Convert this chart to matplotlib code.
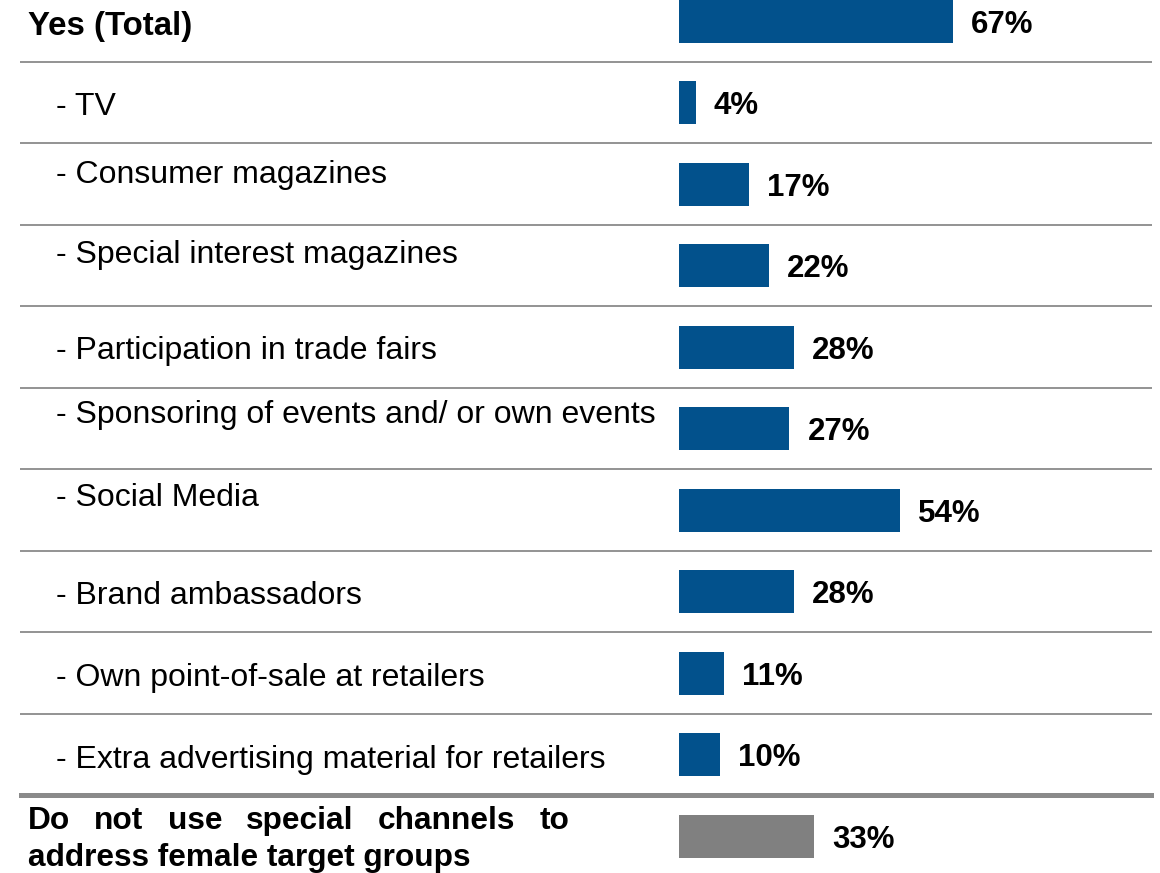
import matplotlib
matplotlib.use("Agg")
import matplotlib.pyplot as plt
from matplotlib.transforms import blended_transform_factory

plt.rcParams["font.family"] = ["Liberation Sans", "DejaVu Sans"]

# ---- data -------------------------------------------------------------
categories = [
    "Yes (Total)",
    "- TV",
    "- Consumer magazines",
    "- Special interest magazines",
    "- Participation in trade fairs",
    "- Sponsoring of events and/ or own events",
    "- Social Media",
    "- Brand ambassadors",
    "- Own point-of-sale at retailers",
    "- Extra advertising material for retailers",
]
values = [67, 4, 17, 22, 28, 27, 54, 28, 11, 10]
no_label_lines = ["Do not use special channels to", "address female target groups"]
no_value = 33

# ---- layout -----------------------------------------------------------
W, H, DPI = 1160, 873, 100
ROW_PX = 81.5            # pixel height of one row
ROW0_PX = 21.25          # pixel centre of the first row
X0_PX = 679.3            # pixel of 0 %
PX_PER_PCT = 4.08        # pixels per percent
BAR_PX = 43              # bar thickness in pixels

BLUE = "#02518C"
GREY_BAR = "#808080"
RULE = "#959595"
FS_VAL = 22.5            # value labels (pt)
FS_CAT = 23.0            # category captions (pt)
FS_HEAD = 23.8           # bold "Yes (Total)" caption (pt)
FS_FOOT = 22.8           # bold two-line caption of the last row (pt)


def cap(fs):
    """Cap height in pixels for a given font size."""
    return 0.716 * fs * DPI / 72


# vertical nudges (px, downward) of the category captions within their row
label_shift = [1.75, 0.75, -13, -14.5, 0.5, -17.5, -15.5, 1, 1, 1.5]
label_left = [28] + [56] * 9

fig = plt.figure(figsize=(W / DPI, H / DPI), dpi=DPI)
ax = fig.add_axes([0, 0, 1, 1])
ax.set_xlim(-X0_PX / PX_PER_PCT, (W - X0_PX) / PX_PER_PCT)
ax.set_ylim((H - ROW0_PX) / ROW_PX, -ROW0_PX / ROW_PX)
ax.axis("off")

n = len(categories)
rows = list(range(n))
bar_h = BAR_PX / ROW_PX

# bars
ax.barh(rows, values, height=bar_h, color=BLUE, edgecolor="none")
ax.barh([n], [no_value], height=bar_h, color=GREY_BAR, edgecolor="none")

# row separators
x_from, x_to = 21 / W, 1151 / W
for i in range(n - 1):
    ax.axhline(i + 0.5, x_from, x_to, color=RULE, lw=2.0 * 72 / DPI, zorder=1)
ax.axhline(n - 0.5, x_from, x_to, color="#8a8a8a", lw=5.0 * 72 / DPI, zorder=1)

# value labels
for r, v in zip(rows + [n], values + [no_value]):
    ax.annotate(f"{v}%", xy=(v, r), xytext=(18, -(cap(FS_VAL) / 2 + 0.5)),
                textcoords="offset pixels", ha="left", va="baseline",
                fontsize=FS_VAL, fontweight="bold", color="black")

# category captions
blend = blended_transform_factory(ax.transAxes, ax.transData)
for r, (txt, dy, xl) in enumerate(zip(categories, label_shift, label_left)):
    fs = FS_HEAD if r == 0 else FS_CAT
    ax.annotate(txt, xy=(xl / W, r), xycoords=blend,
                xytext=(0, -(dy + cap(fs) / 2)), textcoords="offset pixels",
                ha="left", va="baseline", fontsize=fs,
                fontweight="bold" if r == 0 else "normal", color="black")

# two-line justified caption for the last row
renderer = fig.canvas.get_renderer()
left_px, right_px = 28, 569
baselines = [829, 866]
for li, (line, base) in enumerate(zip(no_label_lines, baselines)):
    yd = (base - ROW0_PX) / ROW_PX
    words = line.split()
    if li < len(no_label_lines) - 1:
        widths = []
        for w in words:
            t = ax.text(0, 0, w, fontsize=FS_FOOT, fontweight="bold")
            widths.append(t.get_window_extent(renderer).width)
            t.remove()
        gap = (right_px - left_px - sum(widths)) / (len(words) - 1)
        x = left_px
        for w, wd in zip(words, widths):
            ax.text(x / W, yd, w, transform=blend, ha="left", va="baseline",
                    fontsize=FS_FOOT, fontweight="bold", color="black")
            x += wd + gap
    else:
        ax.text(left_px / W, yd, line, transform=blend, ha="left",
                va="baseline", fontsize=FS_FOOT, fontweight="bold",
                color="black")

fig.savefig("out.png", dpi=DPI, facecolor="white")
